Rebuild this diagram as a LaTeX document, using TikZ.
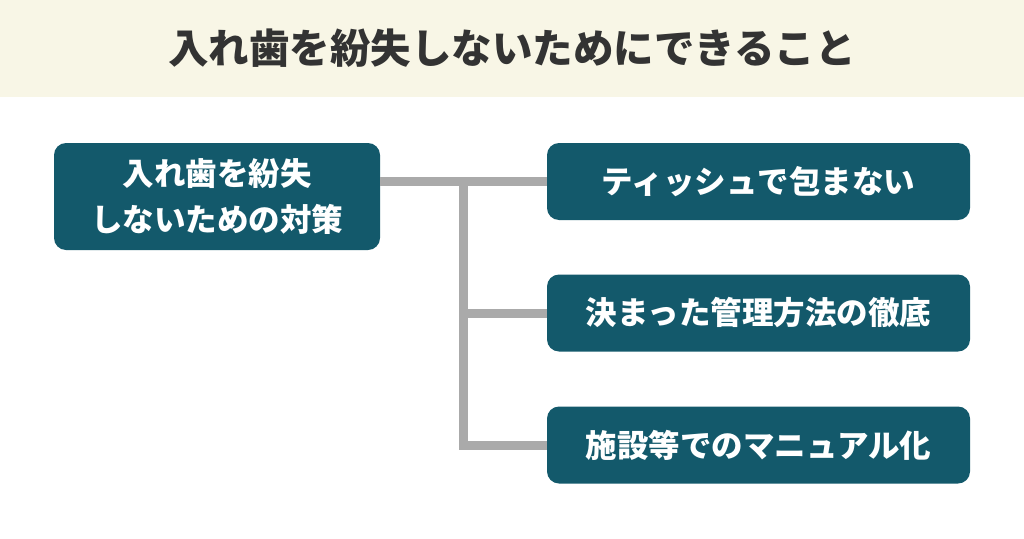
\documentclass[tikz,border=0pt]{standalone}
\usepackage{fontspec}
\setmainfont{Noto Sans CJK JP}
\definecolor{headbg}{HTML}{F8F6E6}
\definecolor{teal}{HTML}{13596B}
\definecolor{linkgray}{HTML}{AAAAAA}
\definecolor{titlegray}{HTML}{333333}
\tikzset{
  box/.style={rounded corners=12pt, fill=teal, text=white, align=center,
    font=\fontsize{31.5}{46}\selectfont\bfseries, inner sep=0pt},
  link/.style={draw=linkgray, line width=9pt}
}
\begin{document}
\begin{tikzpicture}[x=1pt, y=-1pt]
            \useasboundingbox (0, 0) rectangle (1024, 538);
            \fill[headbg] (0, 0) rectangle (1024, 97);
            \node (title) at (512, 48) [text=titlegray, font=\fontsize{40.5}{48}\selectfont\bfseries] {入れ歯を紛失しないためにできること};
            \node (lft) at (217, 196.5) [box, minimum width=326pt, minimum height=107pt] {入れ歯を紛失\\しないための対策};
            \node (top) at (758.5, 181.5) [box, minimum width=423pt, minimum height=77pt] {ティッシュで包まない};
            \node (mid) at (758.5, 313) [box, minimum width=423pt, minimum height=77pt] {決まった管理方法の徹底};
            \node (bot) at (758.5, 445) [box, minimum width=423pt, minimum height=77pt] {施設等でのマニュアル化};
            \coordinate (j) at (463, 181.5);
            \draw[link] (lft.east |- top.west) -- (top.west);
            \draw[link] (j) |- (mid.west);
            \draw[link] (j) |- (bot.west);
        \end{tikzpicture}
\end{document}
